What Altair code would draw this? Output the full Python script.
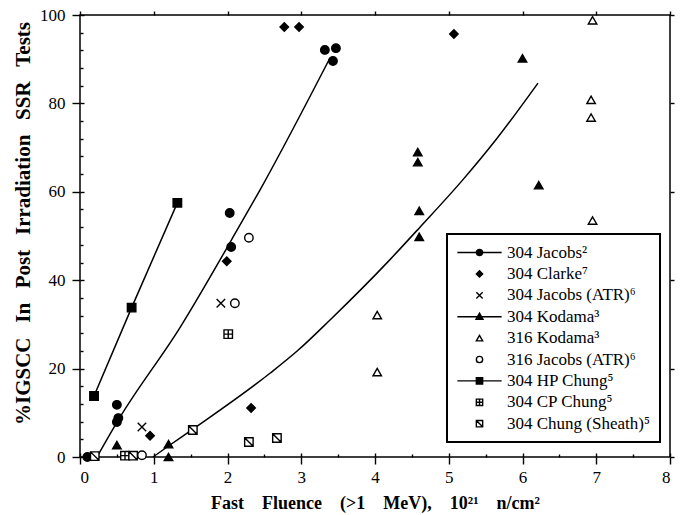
import altair as alt
import pandas as pd

# ---------------- data ----------------
series = ["304 Jacobs²", "304 Clarke⁷", "304 Jacobs (ATR)⁶", "304 Kodama³",
          "316 Kodama³", "316 Jacobs (ATR)⁶", "304 HP Chung⁵", "304 CP Chung⁵",
          "304 Chung (Sheath)⁵"]

jacobs_x = [0.10, 0.50, 0.52, 0.50, 2.03, 2.05, 3.32, 3.47, 3.43]
jacobs_y = [0.0, 11.8, 8.8, 7.9, 55.2, 47.5, 92.1, 92.5, 89.6]
clarke_x = [0.95, 1.99, 2.32, 2.77, 2.97, 5.07]
clarke_y = [4.8, 44.3, 11.1, 97.3, 97.3, 95.7]
jatr_x = [0.84, 1.91]
jatr_y = [6.8, 34.8]
k304_x = [0.50, 1.20, 1.20, 4.58, 4.58, 4.60, 4.60, 6.00, 6.22]
k304_y = [2.7, 2.9, 0.0, 69.0, 66.7, 55.7, 49.8, 90.2, 61.5]
k316_x = [4.03, 4.03, 6.95, 6.93, 6.93, 6.95]
k316_y = [32.1, 19.2, 98.8, 80.8, 76.8, 53.5]
j316_x = [0.84, 2.10, 2.29]
j316_y = [0.4, 34.8, 49.6]
hp_x = [0.19, 0.70, 1.32]
hp_y = [13.8, 33.8, 57.5]
cp_x = [0.61, 2.01]
cp_y = [0.3, 27.8]
sheath_x = [0.20, 0.72, 1.53, 2.29, 2.67]
sheath_y = [0.2, 0.3, 6.1, 3.4, 4.3]

# fitted trend lines
jac_line_x = [0.23, 0.52, 1.36, 2.17, 2.44, 3.39]
jac_line_y = [0.0, 8.4, 29.4, 52.5, 60.4, 90.3]
kod_line_x = [0.99, 1.21, 1.53, 2.58, 2.96, 3.39, 4.20, 4.61, 5.19, 5.65, 6.21]
kod_line_y = [0.0, 2.6, 6.3, 19.0, 24.2, 31.0, 44.6, 52.0, 62.7, 72.0, 84.6]

x_ticks = [0, 1, 2, 3, 4, 5, 6, 7, 8]
x_minor = [0.5, 1.5, 2.5, 3.5, 4.5, 5.5, 6.5, 7.5]
y_ticks = [0, 20, 40, 60, 80, 100]
y_minor = [4, 8, 12, 16, 24, 28, 32, 36, 44, 48, 52, 56, 64, 68, 72, 76, 84, 88, 92, 96]

# ---------------- tables ----------------
xs_all = [jacobs_x, clarke_x, jatr_x, k304_x, k316_x, j316_x, hp_x, cp_x, sheath_x]
ys_all = [jacobs_y, clarke_y, jatr_y, k304_y, k316_y, j316_y, hp_y, cp_y, sheath_y]
rows = []
for name, xs, ys in zip(series, xs_all, ys_all):
    for xv, yv in zip(xs, ys):
        rows.append({"series": name, "x": xv, "y": yv})
pts = pd.DataFrame(rows)
jac_df = pd.DataFrame({"x": jac_line_x, "y": jac_line_y})
kod_df = pd.DataFrame({"x": kod_line_x, "y": kod_line_y})
hp_df = pd.DataFrame({"x": hp_x, "y": hp_y})

XPATH = "M-1,-1L1,1M1,-1L-1,1"
CPPATH = "M-1,-1H1V1H-1Z M0,-1V1 M-1,0H1"
SHPATH = "M-1,-1H1V1H-1Z M-1,-1L1,1"
plot_shapes = ["circle", "diamond", XPATH, "triangle-up", "triangle-up",
               "circle", "square", CPPATH, SHPATH]
LINE = "M-7,0H7 "
legend_shapes = [LINE + "M1,0A1,1 0 1,1 -1,0A1,1 0 1,1 1,0Z", "diamond", XPATH,
                 LINE + "M0,-1.1L1.1,0.8L-1.1,0.8Z", "triangle-up", "circle",
                 LINE + "M-1,-1H1V1H-1Z", CPPATH, SHPATH]
fills = ["black", "black", "transparent", "black", "white", "white", "black",
         "white", "white"]
strokes = ["black"] * len(series)

FONT = "Liberation Serif"
xscale = alt.Scale(domain=[0, 8], nice=False, zero=False)
yscale = alt.Scale(domain=[0, 100], nice=False, zero=False)


def ax(orient, values, tick, offset=0, labels=False, title=None, **kw):
    args = dict(orient=orient, values=values, tickSize=tick, offset=offset,
                labels=labels, domain=False, grid=False, tickColor="black",
                tickWidth=1.4, title=title)
    args.update(kw)
    return alt.Axis(**args)


SPX = "\u2003"
SPY = "\u2002\u2009"
main_x = ax("bottom", x_ticks, 7, labels=True,
            title=f"Fast{SPX}Fluence{SPX}(>1{SPX}MeV),{SPX}10²¹{SPX}n/cm²",
            format="d", labelFont=FONT, labelFontSize=17, labelColor="black",
            labelPadding=5, titleFont=FONT, titleFontSize=18,
            titleFontWeight="bold", titleColor="black", titlePadding=9)
main_y = ax("left", y_ticks, 8, labels=True,
            title=f"%IGSCC{SPY}In{SPY}Post{SPY}Irradiation{SPY}SSR{SPY}Tests",
            format="d", labelFont=FONT, labelFontSize=17, labelColor="black",
            labelPadding=7, titleFont=FONT, titleFontSize=21,
            titleFontWeight="bold", titleColor="black", titlePadding=6,
            titleY=208)

kod_line = alt.Chart(kod_df).mark_line(color="black", strokeWidth=1.5,
                                       interpolate="monotone").encode(
    x=alt.X("x:Q", scale=xscale, axis=ax("bottom", x_ticks, 4, offset=-4)),
    y=alt.Y("y:Q", scale=yscale, axis=ax("left", y_ticks, 4, offset=-4)),
)
jac_line = alt.Chart(jac_df).mark_line(color="black", strokeWidth=1.5,
                                       interpolate="monotone").encode(
    x=alt.X("x:Q", scale=xscale, axis=ax("bottom", x_minor, 3, offset=-3)),
    y=alt.Y("y:Q", scale=yscale, axis=ax("left", y_minor, 3, offset=-3)),
)
hp_line = alt.Chart(hp_df).mark_line(color="black", strokeWidth=1.5).encode(
    x=alt.X("x:Q", scale=xscale, axis=ax("top", x_ticks, 4)),
    y=alt.Y("y:Q", scale=yscale, axis=ax("right", y_ticks, 4)),
)

points = alt.Chart(pts).mark_point(filled=True, stroke="black", strokeWidth=1.4,
                                   size=72, opacity=1).encode(
    x=alt.X("x:Q", scale=xscale, axis=main_x),
    y=alt.Y("y:Q", scale=yscale, axis=main_y),
    shape=alt.Shape("series:N", scale=alt.Scale(domain=series, range=plot_shapes),
                    legend=None),
    fill=alt.Fill("series:N", scale=alt.Scale(domain=series, range=fills),
                  legend=None),
)

legend = alt.Legend(title=None, orient="none", legendX=367, legendY=219,
                    labelFont=FONT, labelFontSize=17, labelColor="black",
                    labelLimit=300, symbolSize=40, symbolStrokeWidth=1.4,
                    symbolOffset=14, labelOffset=19, rowPadding=3.4,
                    padding=10, strokeColor="black", fillColor="white")

legend_layer = alt.Chart(pts).transform_filter("false").mark_point(
    filled=True, strokeWidth=1.4, size=40, opacity=1).encode(
    x=alt.X("x:Q", scale=xscale, axis=None),
    y=alt.Y("y:Q", scale=yscale, axis=None),
    shape=alt.Shape("series:N", scale=alt.Scale(domain=series, range=legend_shapes),
                    legend=legend),
    fill=alt.Fill("series:N", scale=alt.Scale(domain=series, range=fills),
                  legend=legend),
    stroke=alt.Stroke("series:N", scale=alt.Scale(domain=series, range=strokes),
                      legend=legend),
)

chart = alt.layer(kod_line, jac_line, hp_line, points, legend_layer).resolve_axis(
    x="independent", y="independent"
).resolve_scale(
    shape="independent", fill="independent", stroke="independent"
).properties(
    width=590, height=442,
    padding={"left": 80, "top": 15, "right": 10, "bottom": 58},
    autosize=alt.AutoSizeParams(type="none"),
).configure(font=FONT).configure_view(
    stroke="black", strokeWidth=1.5
).configure_legend(strokeWidth=2)

chart.save("out.html", embed_options={"renderer": "svg", "actions": False})
